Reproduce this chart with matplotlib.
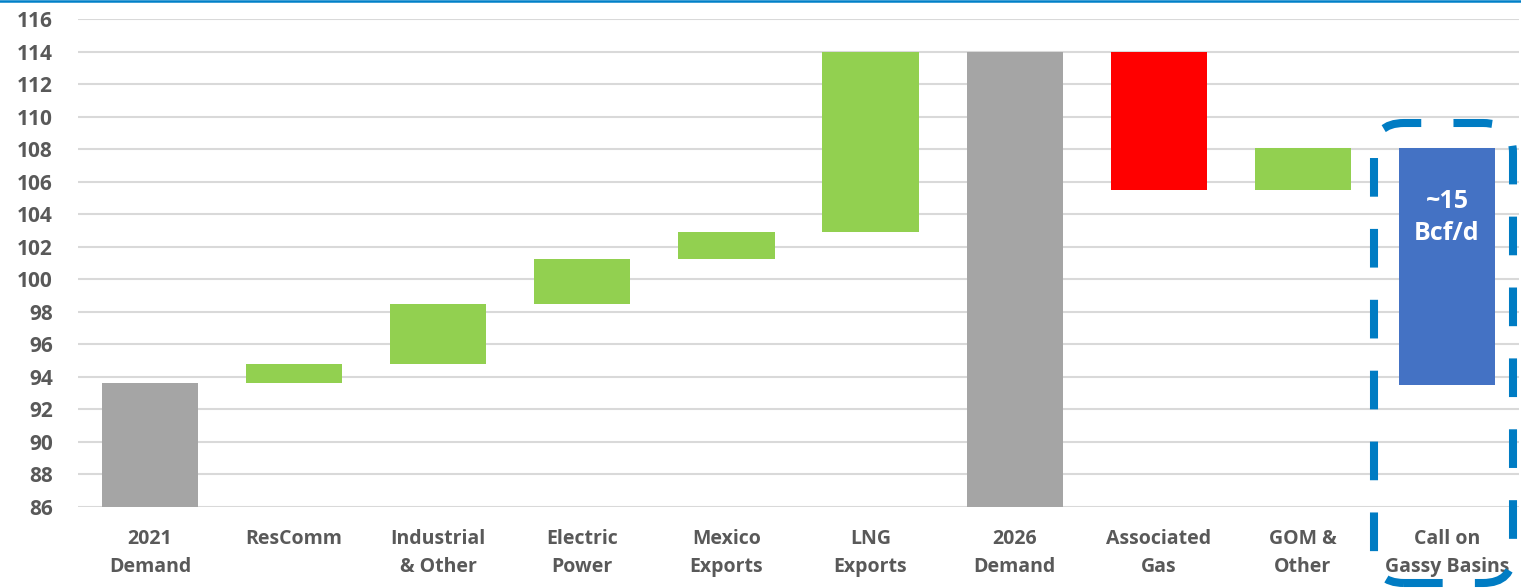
import matplotlib
matplotlib.use("Agg")
import matplotlib.pyplot as plt
from matplotlib.patches import FancyBboxPatch
from matplotlib.lines import Line2D
from matplotlib.transforms import IdentityTransform

categories = ["2021\nDemand", "ResComm", "Industrial\n& Other", "Electric\nPower", "Mexico\nExports",
              "LNG\nExports", "2026\nDemand", "Associated\nGas", "GOM &\nOther", "Call on\nGassy Basins"]
bar_low = [86, 93.6, 94.8, 98.5, 101.25, 102.9, 86, 105.5, 105.5, 93.5]
bar_high = [93.6, 94.8, 98.5, 101.25, 102.9, 114, 114, 114, 108.1, 108.1]
bar_colors = ["#A5A5A5", "#92D050", "#92D050", "#92D050", "#92D050", "#92D050",
              "#A5A5A5", "#FF0000", "#92D050", "#4472C4"]
y_ticks = list(range(86, 117, 2))
call_label = "~15\nBcf/d"

plt.rcParams['font.family'] = ['Open Sans', 'DejaVu Sans']
fig = plt.figure(figsize=(15.21, 5.88), dpi=100)
ax = fig.add_axes([78/1521, 1-507/588, (1519-78)/1521, (507-19)/588])

x = list(range(len(categories)))
heights = [h - l for l, h in zip(bar_low, bar_high)]
ax.bar(x, heights, bottom=bar_low, width=0.667, color=bar_colors, zorder=3)

ax.set_xlim(-0.5, len(categories) - 0.5)
ax.set_ylim(86, 116)
ax.set_yticks(y_ticks)
ax.set_yticklabels([str(t) for t in y_ticks], fontsize=15, fontweight='bold', color='#595959')
ax.set_xticks(x)
ax.set_xticklabels(categories, fontsize=14, fontweight='bold', color='#595959', linespacing=1.5)
ax.tick_params(axis='y', length=0, pad=18)
ax.tick_params(axis='x', length=0, pad=16)
ax.grid(axis='y', color='#D9D9D9', linewidth=1.5, zorder=0)
for s in ax.spines.values():
    s.set_visible(False)

ax.text(x[-1], 103.8, call_label, ha='center', va='center', color='white',
        fontsize=18, fontweight='bold', linespacing=1.35, zorder=4)

# dashed rounded highlight box (pixel coords)
box = FancyBboxPatch((1374, 5), 139, 460, boxstyle="round,pad=0,rounding_size=30",
                     transform=IdentityTransform(), fill=False, edgecolor='#007CC3',
                     linewidth=5.8, linestyle=(0, (4.8, 4.0)), clip_on=False, zorder=5)
fig.patches.append(box)

# top blue rule
fig.add_artist(Line2D([0, 1], [0.999, 0.999], transform=fig.transFigure, color='#0080C8', linewidth=1.8))

fig.savefig("out.png", dpi=100)
